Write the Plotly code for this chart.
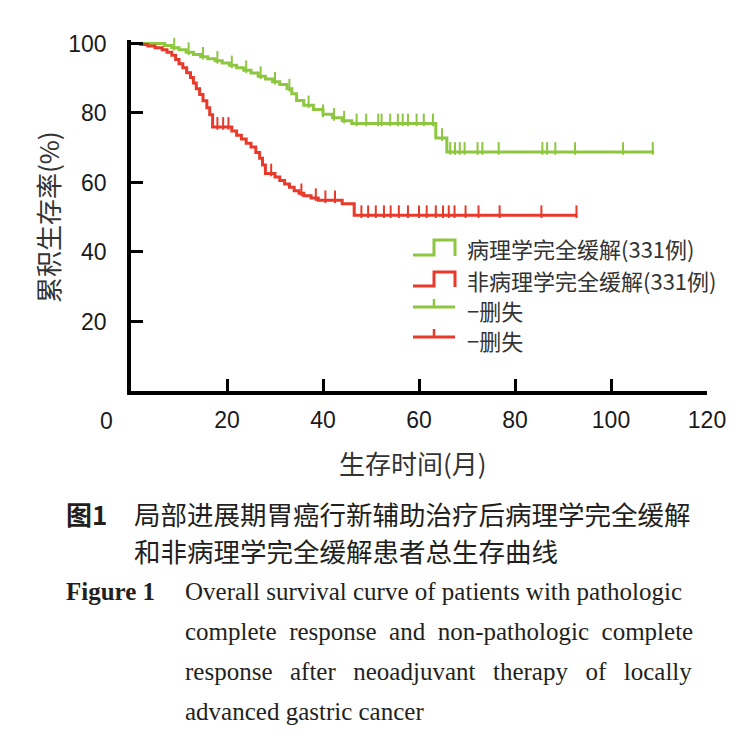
import numpy as np
import plotly.graph_objects as go

# ---------------- data ----------------
green_name = "病理学完全缓解(331例)"
red_name = "非病理学完全缓解(331例)"
censor_name = "−删失"

green_t = [0, 7, 8.5, 10, 11.5, 13, 14.5, 16, 17.5, 19, 20.5, 22, 23.5, 25, 26.5, 28, 29.5,
           31, 32.5, 33.5, 34.5, 36, 38, 40, 42, 44, 46, 63.5, 65.8]
green_s = [100, 99.4, 98.8, 98.2, 97.5, 96.8, 96.2, 95.6, 95, 94.4, 93.7, 93, 92.3, 91.5, 90.6,
           89.8, 89, 88.2, 87, 85.5, 83.6, 82.2, 81, 79.6, 78.6, 77.8, 77, 72.8, 68.8]
green_end = 109
green_censor = [9, 12, 15, 18, 21, 24, 27, 30, 33, 37, 40, 42.3, 44.4, 47, 49, 51.5, 52.2, 54,
                55.6, 56.6, 57.7, 59.5, 61, 62.9, 64.8, 66.5, 67.5, 68.5, 69.5, 72.2, 73.2, 76.6,
                85.7, 86.7, 88.4, 92.5, 102.5, 108.7]

red_t = [0, 2, 3.5, 5, 6.5, 7.5, 8.5, 9.3, 10, 10.8, 11.6, 12.4, 13, 13.6, 14.3, 15, 15.8, 16.4,
         17, 21, 22, 23, 24, 25, 26, 26.8, 27.4, 28, 30, 31, 32, 33, 34, 35, 36, 37.5, 39, 44, 46.5]
red_s = [100, 99.7, 99.3, 98.8, 98.2, 97.5, 96.6, 95.4, 94.2, 93, 91.6, 90.2, 88.6, 87, 85.3,
         83.5, 81.5, 79.5, 76, 74.8, 73.6, 72.5, 71.3, 70.2, 68.6, 67, 65, 62.6, 61.6, 60.6, 59.6,
         58.6, 57.6, 56.9, 56.2, 55.5, 54.9, 53.9, 50.6]
red_end = 93
red_censor = [18, 19.2, 20.3, 29.2, 35.5, 38.5, 40.5, 42.5, 48, 49.4, 51, 52.7, 54.1, 55.8, 57.7,
              60, 61.6, 63.5, 65, 66.2, 67.4, 69.7, 72.4, 76.8, 85.5, 92.8]

x_ticks = [20, 40, 60, 80, 100, 120]
y_ticks = [20, 40, 60, 80, 100]
x_title = "生存时间(月)"
y_title = "累积生存率(%)"

cap_cn_label = "图1"
cap_cn_lines = ["局部进展期胃癌行新辅助治疗后病理学完全缓解", "和非病理学完全缓解患者总生存曲线"]
cap_en_label = "Figure 1"
cap_en_lines = ["Overall survival curve of patients with pathologic",
                "complete response and non-pathologic complete",
                "response after neoadjuvant therapy of locally",
                "advanced gastric cancer"]

# ---------------- style ----------------
GREEN = "#8dc63f"
RED = "#e8392b"
OFF = 8                      # page body margin
W, H = 755 - OFF, 748 - OFF
L, R, T, B = 123, 48, 32, 357
PW, PH = W - L - R, H - T - B
# extra inter-word spacing per English caption line (imitates justified text)
EN_SEPS = [" ", " \u00a0", " \u00a0\u2009", " "]


def px(x):
    return (x - OFF - L) / PW


def py(y):
    return (H - B - (y - OFF)) / PH


def surv_at(ts, ss, t):
    i = np.searchsorted(np.array(ts), t, side="right") - 1
    return np.array(ss)[i]


fig = go.Figure()
for ts, ss, end, cens, col in [(green_t, green_s, green_end, green_censor, GREEN),
                               (red_t, red_s, red_end, red_censor, RED)]:
    fig.add_trace(go.Scatter(x=ts + [end], y=ss + [ss[-1]], mode="lines",
                             line=dict(color=col, width=3, shape="hv"),
                             showlegend=False, hoverinfo="skip"))
    cy = surv_at(ts, ss, cens) + 1.0
    fig.add_trace(go.Scatter(x=cens, y=cy, mode="markers",
                             marker=dict(symbol="line-ns", size=9,
                                         line=dict(color=col, width=2)),
                             showlegend=False, hoverinfo="skip", cliponaxis=False))

axis_common = dict(showline=True, linecolor="black", linewidth=3.5, ticks="inside",
                   ticklen=12, tickwidth=2.5, tickcolor="black", showgrid=False,
                   zeroline=False, tickfont=dict(family="Liberation Sans, Arial", size=23,
                                                 color="#1a1a1a"))
fig.update_xaxes(range=[0, 120], tickvals=x_ticks, ticklabelstandoff=6, **axis_common)
fig.update_yaxes(range=[0, 101], tickvals=y_ticks, ticklabelstandoff=16, **axis_common)

shapes = []
ann = []
# legend icons
for (y0, y1, col) in [(255, 240, GREEN), (286, 272, RED)]:
    path = (f"M {px(413)},{py(y0)} L {px(434)},{py(y0)} L {px(434)},{py(y1)} "
            f"L {px(455)},{py(y1)} L {px(455)},{py(y0 + 1)}")
    shapes.append(dict(type="path", path=path, xref="paper", yref="paper",
                       line=dict(color=col, width=3)))
for (yl, col) in [(307, GREEN), (337, RED)]:
    shapes.append(dict(type="line", xref="paper", yref="paper", x0=px(413), x1=px(455),
                       y0=py(yl), y1=py(yl), line=dict(color=col, width=3)))
    shapes.append(dict(type="line", xref="paper", yref="paper", x0=px(434), x1=px(434),
                       y0=py(yl), y1=py(yl - 8), line=dict(color=col, width=2.5)))
leg_font = dict(family="Noto Sans CJK SC", size=22, color="#333333")
for txt, yc in [(green_name, 248), (red_name, 280), (censor_name, 310), (censor_name, 340)]:
    ann.append(dict(text=txt, x=px(465), y=py(yc), xref="paper", yref="paper",
                    xanchor="left", yanchor="middle", showarrow=False, font=leg_font))

# corner zero label
ann.append(dict(text="0", x=px(106), y=py(421), xref="paper", yref="paper", xanchor="center",
                yanchor="middle", showarrow=False,
                font=dict(family="Liberation Sans, Arial", size=23, color="#1a1a1a")))
# axis titles
ann.append(dict(text=x_title, x=px(413), y=py(462), xref="paper", yref="paper",
                xanchor="center", yanchor="middle", showarrow=False,
                font=dict(family="Noto Sans CJK SC", size=26, color="#333333")))
ann.append(dict(text=y_title, x=px(47), y=py(217), xref="paper", yref="paper",
                xanchor="center", yanchor="middle", showarrow=False, textangle=-90,
                font=dict(family="Noto Sans CJK SC", size=26, color="#333333")))

# captions
CAP = "#231f20"
ann.append(dict(text=f"<b>{cap_cn_label}</b>", x=px(64), y=py(513), xref="paper", yref="paper",
                xanchor="left", yanchor="middle", showarrow=False,
                font=dict(family="Noto Sans CJK SC", size=26, color=CAP)))
for i, line in enumerate(cap_cn_lines):
    ann.append(dict(text=line, x=px(132), y=py(513 + 37 * i), xref="paper", yref="paper",
                    xanchor="left", yanchor="middle", showarrow=False,
                    font=dict(family="Noto Sans CJK SC", size=26.5, color=CAP)))
ann.append(dict(text=f"<b>{cap_en_label}</b>", x=px(64), y=py(591), xref="paper", yref="paper",
                xanchor="left", yanchor="middle", showarrow=False,
                font=dict(family="Liberation Serif", size=25, color=CAP)))
for i, line in enumerate(cap_en_lines):
    ann.append(dict(text=EN_SEPS[i].join(line.split(" ")), x=px(183), y=py(591 + 40 * i),
                    xref="paper", yref="paper", xanchor="left", yanchor="middle",
                    showarrow=False, font=dict(family="Liberation Serif", size=25, color=CAP)))

fig.update_layout(width=W, height=H, margin=dict(l=L, r=R, t=T, b=B, autoexpand=False),
                  paper_bgcolor="white", plot_bgcolor="white", showlegend=False,
                  shapes=shapes, annotations=ann)
fig.write_html("out.html")
